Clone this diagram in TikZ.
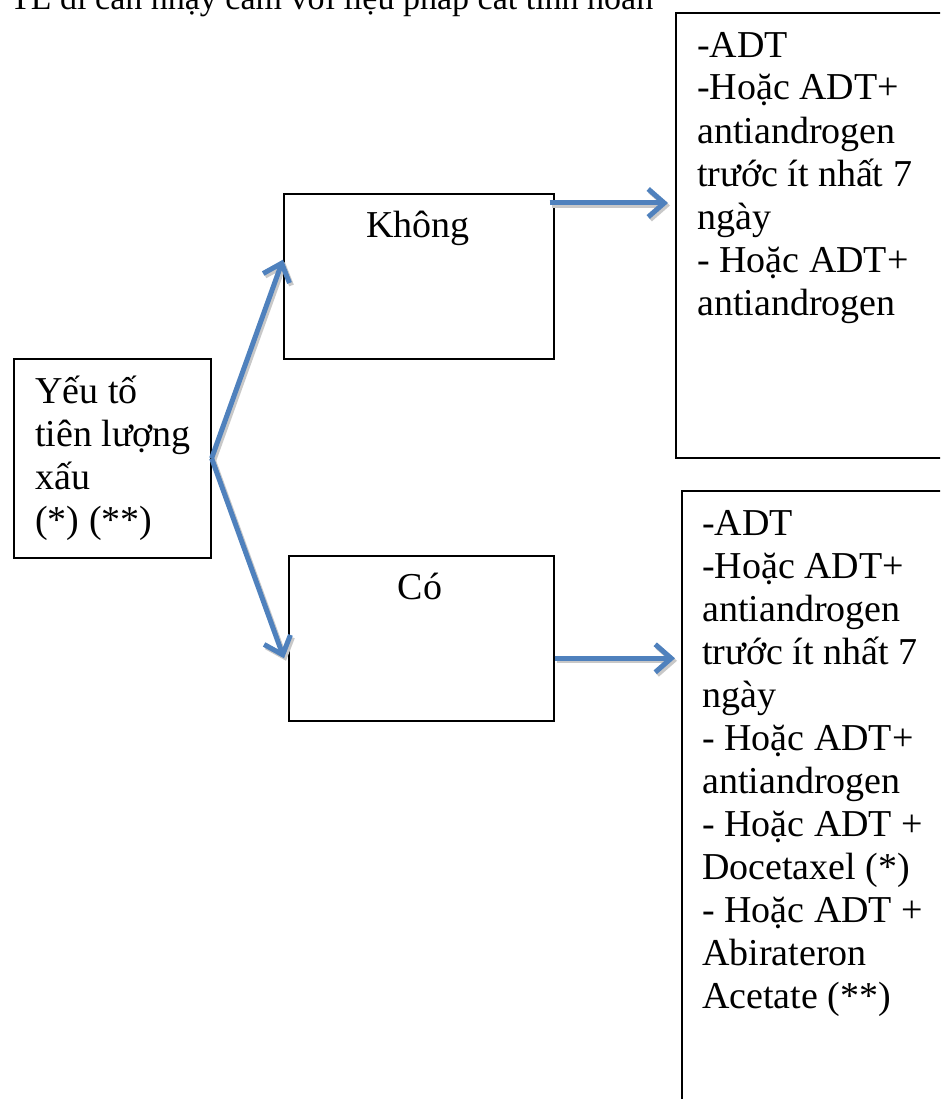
\documentclass[tikz,border=0pt]{standalone}
\usepackage{fontspec}
\setmainfont{Liberation Serif}
\usetikzlibrary{arrows.meta,calc}

\definecolor{flowblue}{RGB}{79,129,189}
\definecolor{shadowgray}{RGB}{200,200,200}

\tikzset{
	box/.style={draw,line width=1.6pt,anchor=north west,inner sep=0pt},
	boxtext/.style={font=\fontsize{38}{43}\selectfont,align=left,anchor=base west,inner sep=0pt},
	flow/.style={line width=5pt,flowblue,-{Straight Barb[length=16pt,width=28pt]}},
	flowshadow/.style={flow,shadowgray},
}

\begin{document}
\begin{tikzpicture}[x=1pt,y=-1pt]
	\useasboundingbox (0,0) rectangle (940,1099);
	\clip (0,0) rectangle (940,1099);
	
	%TITLE (cut at the top of the page)
	\node[anchor=base west,inner sep=0pt,font=\fontsize{34}{40}\selectfont] (title) at (10,10)
		{TL di căn nhạy cảm với liệu pháp cắt tinh hoàn};
	
	%BOXES
	\node[box,minimum width=197,minimum height=199] (yeu) at (13,358) {};
	\node[box,minimum width=270,minimum height=165] (khong) at (283,193) {};
	\node[box,minimum width=265,minimum height=165] (co) at (288,555) {};
	\node[box,minimum width=300,minimum height=445] (adt1) at (675,12) {};
	\node[box,minimum width=300,minimum height=650] (adt2) at (681,490) {};
	
	%BOX TEXTS (base = last line)
	\node[boxtext] (yeutext) at (35,532) {Yếu tố\\tiên lượng\\xấu\\(*) (**)};
	\node[boxtext,anchor=base] (khongtext) at (418,237) {Không};
	\node[boxtext,anchor=base] (cotext) at (420,599) {Có};
	\node[boxtext] (adt1text) at (697,315) {-ADT\\-Hoặc ADT+\\antiandrogen\\trước ít nhất 7\\ngày\\- Hoặc ADT+\\antiandrogen};
	\node[boxtext] (adt2text) at (702,1008) {-ADT\\-Hoặc ADT+\\antiandrogen\\trước ít nhất 7\\ngày\\- Hoặc ADT+\\antiandrogen\\- Hoặc ADT +\\Docetaxel (*)\\- Hoặc ADT +\\Abirateron\\Acetate (**)};
	
	%ARROW ENDS
	\coordinate (khongin) at ($(khong.north west)!0.4!(khong.south west)$);
	\coordinate (coin) at ($(co.north west)!0.62!(co.south west)+(-4,0)$);
	\coordinate (khongout) at ($(khong.north east)+(-5,10)$);
	\coordinate (adt1in) at ($(adt1.north west |- khongout)+(-7,0)$);
	\coordinate (coout) at ($(co.north east)!0.62!(co.south east)$);
	\coordinate (adt2in) at ($(adt2.north west |- coout)+(-6,0)$);
	
	%ARROW SHADOWS
	\begin{scope}[transform canvas={shift={(2pt,-2.5pt)}}]
		\draw[flowshadow] (yeu.east) -- (khongin);
		\draw[flowshadow] (yeu.east) -- (coin);
		\draw[flowshadow] (khongout) -- (adt1in);
		\draw[flowshadow] (coout) -- (adt2in);
	\end{scope}
	
	%ARROWS
	\draw[flow] (yeu.east) -- (khongin);
	\draw[flow] (yeu.east) -- (coin);
	\draw[flow] (khongout) -- (adt1in);
	\draw[flow] (coout) -- (adt2in);
\end{tikzpicture}
\end{document}
